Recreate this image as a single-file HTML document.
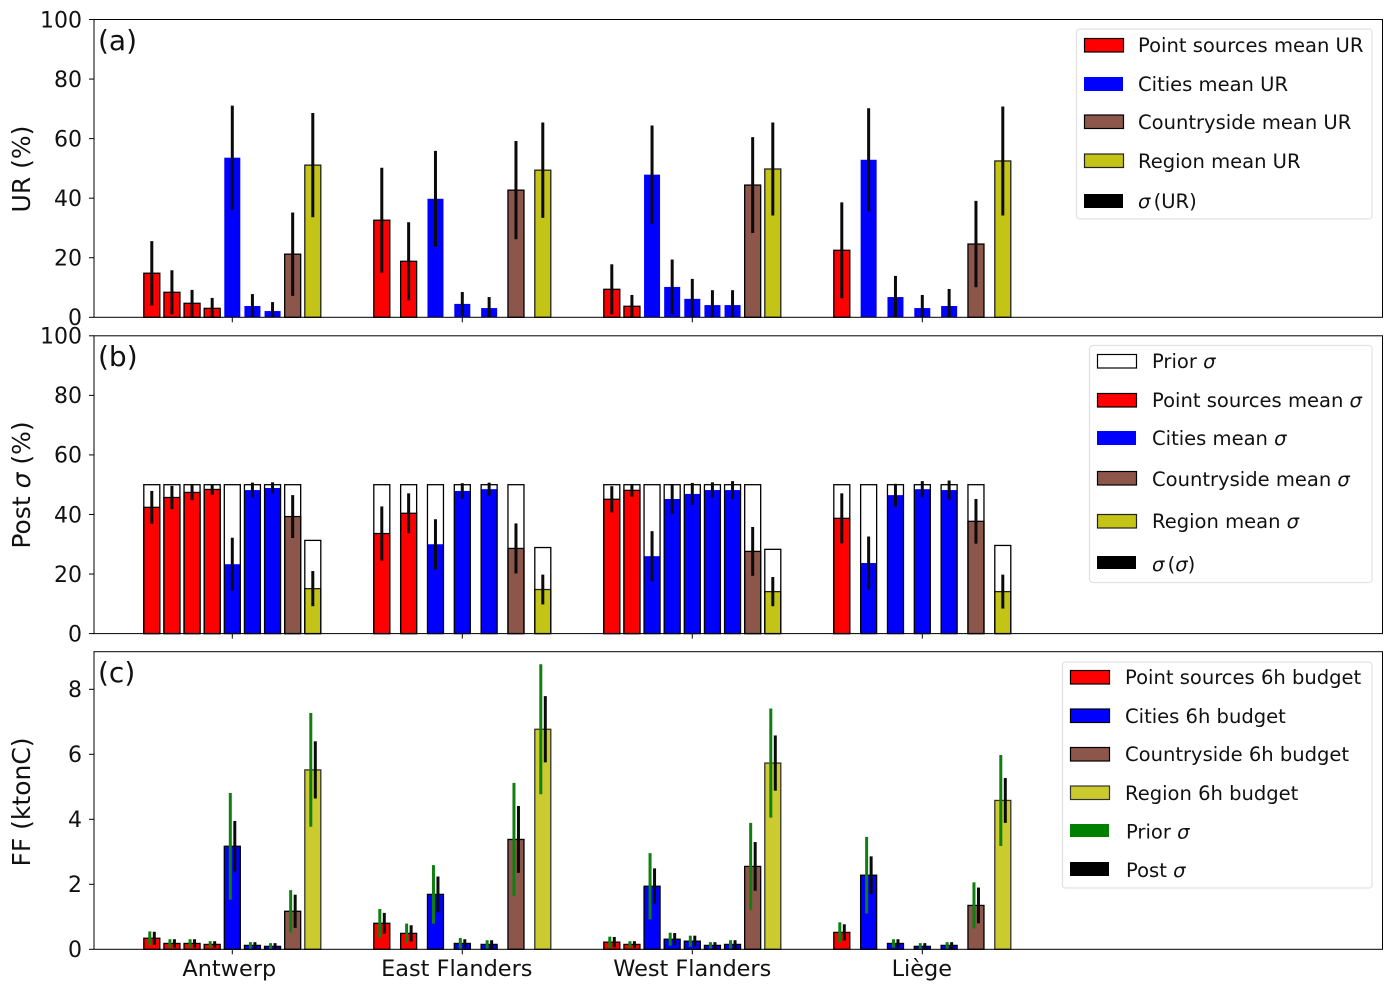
<!DOCTYPE html>
<html lang="en">
<head>
<meta charset="utf-8">
<title>UR, posterior uncertainty and FF budgets by region</title>
<style>
html,body{margin:0;padding:0;background:#fff;}
svg{display:block;}
text{font-family:"DejaVu Sans","Liberation Sans",sans-serif;fill:#111;}
.leg{font-size:19.55px;}
.m{font-style:italic;}
.box{fill:#fff;stroke:#e2e2e2;stroke-width:1.2;}
</style>
</head>
<body>
<svg id="chart" xmlns="http://www.w3.org/2000/svg" width="1396" height="992" viewBox="0 0 1396 992">
  <g id="marks"></g>

  <g>
    <rect class="box" x="1076.5" y="29" width="295.5" height="190" rx="3"/>
    <rect x="1084.5" y="38.5" width="39" height="13.5" fill="#ff0000" stroke="#000" stroke-width="1.2"/>
    <text class="leg" x="1138" y="52">Point sources mean UR</text>
    <rect x="1084" y="77" width="39" height="14" fill="#0000ff"/>
    <text class="leg" x="1138" y="91">Cities mean UR</text>
    <rect x="1084.5" y="115" width="39" height="13.5" fill="#8c564b" stroke="#000" stroke-width="1.2"/>
    <text class="leg" x="1138" y="129">Countryside mean UR</text>
    <rect x="1084.5" y="154" width="39" height="13.5" fill="#c4c417" stroke="#222" stroke-width="1.2"/>
    <text class="leg" x="1138" y="168">Region mean UR</text>
    <rect x="1084" y="194" width="39" height="14" fill="#000"/>
    <text class="leg" x="1138" y="208"><tspan class="m">σ</tspan><tspan dx="-3"> (UR)</tspan></text>
  </g>

  <g>
    <rect class="box" x="1089.5" y="345.5" width="282.5" height="237" rx="3"/>
    <rect x="1097.5" y="354.5" width="39" height="13.5" fill="#fff" stroke="#000" stroke-width="1.2"/>
    <text class="leg" x="1152" y="368">Prior <tspan class="m">σ</tspan></text>
    <rect x="1097.5" y="393.5" width="39" height="13.5" fill="#ff0000" stroke="#000" stroke-width="1.2"/>
    <text class="leg" x="1152" y="407">Point sources mean <tspan class="m">σ</tspan></text>
    <rect x="1097" y="431" width="39" height="14" fill="#0000ff"/>
    <text class="leg" x="1152" y="445">Cities mean <tspan class="m">σ</tspan></text>
    <rect x="1097.5" y="471.5" width="39" height="13.5" fill="#8c564b" stroke="#000" stroke-width="1.2"/>
    <text class="leg" x="1152" y="486">Countryside mean <tspan class="m">σ</tspan></text>
    <rect x="1097.5" y="514.5" width="39" height="13.5" fill="#c4c417" stroke="#222" stroke-width="1.2"/>
    <text class="leg" x="1152" y="528">Region mean <tspan class="m">σ</tspan></text>
    <rect x="1097" y="556" width="39" height="13" fill="#000"/>
    <text class="leg" x="1152" y="571"><tspan class="m">σ</tspan><tspan dx="-3"> (</tspan><tspan class="m">σ</tspan>)</text>
  </g>

  <g>
    <rect class="box" x="1062.5" y="662" width="309.5" height="226" rx="3"/>
    <rect x="1070.5" y="670.5" width="39" height="13.5" fill="#ff0000" stroke="#000" stroke-width="1.2"/>
    <text class="leg" x="1125" y="684">Point sources 6h budget</text>
    <rect x="1070.5" y="709" width="39" height="13.5" fill="#0000ff" stroke="#000" stroke-width="1.2"/>
    <text class="leg" x="1125" y="723">Cities 6h budget</text>
    <rect x="1070.5" y="747.5" width="39" height="13.5" fill="#8c564b" stroke="#000" stroke-width="1.2"/>
    <text class="leg" x="1125" y="761">Countryside 6h budget</text>
    <rect x="1070.5" y="786" width="39" height="13.5" fill="#cbcb30" stroke="#333" stroke-width="1.2"/>
    <text class="leg" x="1125" y="800">Region 6h budget</text>
    <rect x="1070" y="824" width="39" height="13" fill="#008000"/>
    <text class="leg" x="1126" y="838.5">Prior <tspan class="m">σ</tspan></text>
    <rect x="1070" y="862" width="39" height="14" fill="#000"/>
    <text class="leg" x="1126" y="877">Post <tspan class="m">σ</tspan></text>
  </g>

  <text x="98" y="50" font-size="28">(a)</text>
  <text x="98" y="366" font-size="28">(b)</text>
  <text x="98" y="682" font-size="28">(c)</text>

  <text font-size="25" text-anchor="middle" transform="translate(30,169) rotate(-90)">UR (%)</text>
  <text font-size="25" text-anchor="middle" transform="translate(30,485) rotate(-90)">Post <tspan class="m">σ</tspan> (%)</text>
  <text font-size="25" text-anchor="middle" transform="translate(30,802) rotate(-90)">FF (ktonC)</text>
</svg>

<script>
// ---- categories and bar kinds ----
const categories = ["Antwerp", "East Flanders", "West Flanders", "Liège"];
const barKinds = [
  ["point","point","point","point","city","city","city","country","region"],
  ["point","point","city","city","city","country","region"],
  ["point","point","city","city","city","city","city","country","region"],
  ["point","city","city","city","city","country","region"]
];

// ---- panel (a): uncertainty reduction, % ----
const urMean = [
  [14.8,8.4,4.7,3.0,53.6,3.8,2.1,21.2,51.1],
  [32.6,18.8,39.8,4.5,3.1,42.7,49.4],
  [9.4,3.7,47.9,10.2,6.2,4.1,4.1,44.4,49.8],
  [22.5,52.9,6.8,3.1,3.8,24.6,52.5]
];
const urSigma = [
  [10.8,7.4,4.5,3.5,17.5,4.0,3.0,14.0,17.5],
  [17.6,13.1,16.1,4.0,3.7,16.5,16.0],
  [8.4,3.8,16.5,9.2,6.7,5.0,5.0,16.1,15.6],
  [16.1,17.3,7.1,4.4,5.7,14.5,18.3]
];

// ---- panel (b): posterior sigma, % ----
const priorSigma = [
  [50,50,50,50,50,50,50,50,31.3],
  [50,50,50,50,50,50,28.9],
  [50,50,50,50,50,50,50,50,28.3],
  [50,50,50,50,50,50,29.6]
];
const postSigma = [
  [42.4,45.7,47.4,48.4,23.3,48.2,48.9,39.3,15.1],
  [33.6,40.4,30.0,47.9,48.5,28.6,14.8],
  [45.1,48.1,26.0,45.2,46.9,48.2,48.2,27.6,14.1],
  [38.7,23.7,46.5,48.5,48.2,37.7,14.1]
];
const postSigmaSpread = [
  [5.5,3.9,2.6,1.8,8.9,2.5,1.9,7.2,5.9],
  [9.1,6.7,8.4,2.6,2.2,8.4,5.0],
  [4.4,2.1,8.4,5.0,3.7,2.6,3.0,8.2,4.9],
  [8.4,8.9,3.8,2.7,3.2,7.5,5.7]
];

// ---- panel (c): 6h fossil fuel budget, ktonC ----
const ffBudget = [
  [0.34,0.18,0.18,0.15,3.17,0.12,0.09,1.17,5.52],
  [0.80,0.49,1.69,0.18,0.15,3.38,6.77],
  [0.22,0.15,1.94,0.31,0.25,0.12,0.15,2.55,5.73],
  [0.52,2.28,0.18,0.09,0.12,1.35,4.58]
];
const ffPriorSigma = [
  [0.21,0.13,0.13,0.10,1.64,0.10,0.10,0.65,1.75],
  [0.44,0.30,0.90,0.17,0.13,1.74,2.00],
  [0.17,0.10,1.02,0.20,0.17,0.10,0.13,1.34,1.68],
  [0.31,1.18,0.13,0.10,0.10,0.71,1.40]
];
const ffPostSigma = [
  [0.20,0.13,0.13,0.10,0.78,0.10,0.10,0.51,0.88],
  [0.32,0.25,0.55,0.13,0.13,1.03,1.02],
  [0.16,0.10,0.55,0.19,0.17,0.10,0.13,0.75,0.85],
  [0.25,0.58,0.13,0.10,0.10,0.55,0.69]
];

// ---- tick labels ----
const percentTicks = [0,20,40,60,80,100];
const ffTicks = [0,2,4,6,8];

// ---- axes ----
const NS = "http://www.w3.org/2000/svg";
const marks = document.getElementById("marks");
const axLeft = 94, axRight = 1382.5;
const panels = {
  a: {top: 19.5, bottom: 317.3, max: 100},
  b: {top: 335.8, bottom: 633.6, max: 100},
  c: {top: 651.7, bottom: 949.3, max: 9.157}
};
function yScale(panel, v) {
  const p = panels[panel];
  return p.bottom - (v / p.max) * (p.bottom - p.top);
}
function tickX(i) { return 232.3 + i * 230; }
function barX(i, j) {
  const n = barKinds[i].length;
  return tickX(i) + (j - (n - 1) / 2) * 161 / (n - 1);
}
const barW = 16;
const fillA = {point:"#ff0000", city:"#0000ff", country:"#8c564b", region:"#c4c417"};
const fillC = {point:"#ff0000", city:"#0000ff", country:"#8c564b", region:"#cbcb30"};
const edgeOf = {point:"#000", city:"#000", country:"#000", region:"#222"};

function make(tag, attrs) {
  const el = document.createElementNS(NS, tag);
  for (const k in attrs) el.setAttribute(k, attrs[k]);
  marks.appendChild(el);
  return el;
}
function drawBar(panel, i, j, value, fill, stroke) {
  const top = yScale(panel, value), base = panels[panel].bottom;
  const el = make("rect", {x: barX(i, j) - barW / 2, y: top, width: barW, height: base - top, fill: fill, stroke: stroke || "none", "stroke-width": stroke ? 1.3 : 0});
  
  
  return el;
}
function drawErr(panel, i, j, dx, value, sigma, color) {
  const p = panels[panel];
  const x = barX(i, j) + dx;
  const y1 = yScale(panel, Math.min(value + sigma, p.max));
  const y2 = yScale(panel, Math.max(value - sigma, 0));
  const el = make("line", {x1: x, x2: x, y1: y1, y2: y2, stroke: color, "stroke-width": 3});
  
  
  return el;
}

categories.forEach(function (name, i) {
  barKinds[i].forEach(function (kind, j) {
    // panel a
    drawBar("a", i, j, urMean[i][j], fillA[kind], kind === "city" ? null : edgeOf[kind]);
    drawErr("a", i, j, 0, urMean[i][j], urSigma[i][j], "#0a0a0a");
    // panel b
    drawBar("b", i, j, postSigma[i][j], fillA[kind], kind === "city" ? null : edgeOf[kind]);
    drawBar("b", i, j, priorSigma[i][j], "none", "#000");
    drawErr("b", i, j, 0, postSigma[i][j], postSigmaSpread[i][j], "#0a0a0a");
    // panel c
    drawBar("c", i, j, ffBudget[i][j], fillC[kind], kind === "region" ? "#333" : "#000");
    drawErr("c", i, j, -2, ffBudget[i][j], ffPriorSigma[i][j], "#0f800f");
    drawErr("c", i, j, 2.5, ffBudget[i][j], ffPostSigma[i][j], "#0a0a0a");
  });
});

// axes frames and ticks
["a","b","c"].forEach(function (key) {
  const p = panels[key];
  const frame = make("rect", {x: axLeft, y: p.top, width: axRight - axLeft, height: p.bottom - p.top, fill: "none", stroke: "#000", "stroke-width": 1});
  
  
  const ticks = key === "c" ? ffTicks : percentTicks;
  ticks.forEach(function (t) {
    const y = yScale(key, t);
    const mark = make("line", {x1: axLeft - 5, x2: axLeft, y1: y, y2: y, stroke: "#000", "stroke-width": 1});
    
    
    const label = make("text", {x: axLeft - 12, y: y + 7.8, "text-anchor": "end", "font-size": 22});
    label.textContent = String(t);
    
    
  });
  categories.forEach(function (name, i) {
    const mark = make("line", {x1: tickX(i), x2: tickX(i), y1: p.bottom, y2: p.bottom + 5, stroke: "#000", "stroke-width": 1});
    
    
  });
});

// category labels sit slightly left of their ticks in the original
const labelNudge = [-3, -5.5, 0, -0.5];
categories.forEach(function (name, i) {
  const label = make("text", {x: tickX(i) + labelNudge[i], y: 976, "text-anchor": "middle", "font-size": 22.4});
  label.textContent = name;
  
  
});
</script>
</body>
</html>
